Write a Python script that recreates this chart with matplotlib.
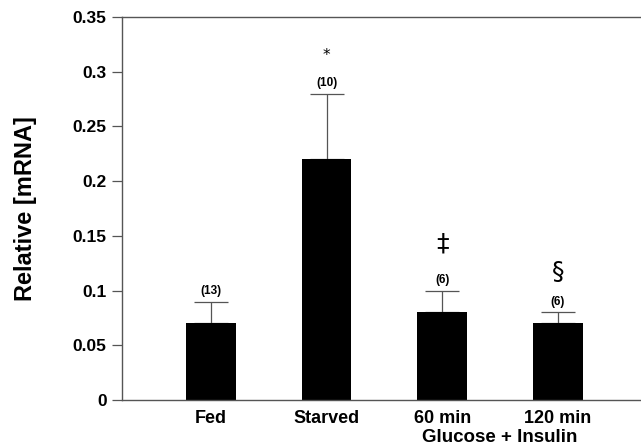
import matplotlib
matplotlib.use('Agg')
import matplotlib.pyplot as plt

plt.rcParams['font.family'] = ['Liberation Sans', 'DejaVu Sans']
plt.rcParams['font.weight'] = 'bold'

# data
groups = ['Fed', 'Starved', '60 min', '120 min']
means = [0.07, 0.22, 0.08, 0.07]
err_up = [0.02, 0.06, 0.02, 0.01]
n_labels = ['(13)', '(10)', '(6)', '(6)']
signif = ['', '*', '\u2021', '\u00a7']
signif_y = [None, 0.315, 0.143, 0.117]

fig = plt.figure(figsize=(6.41, 4.46), dpi=100)
ax = fig.add_axes([122 / 641, 46 / 446, 1 - 122 / 641, (400 - 17) / 446])

x = list(range(len(groups)))
ax.bar(x, means, width=0.43, color='black', zorder=2)
ax.errorbar(x, means, yerr=[[0] * 4, err_up], fmt='none', ecolor='#555555',
            elinewidth=0.9, capsize=12, capthick=0.9, zorder=1)

for xi, m, e, lab in zip(x, means, err_up, n_labels):
    ax.text(xi, m + e + 0.004, lab, ha='center', va='bottom',
            fontsize=8.5, fontweight='bold')

for xi, s, sy in zip(x, signif, signif_y):
    if s:
        size = 11 if s == '*' else 18
        ax.text(xi, sy, s, ha='center', va='center', fontsize=size,
                fontweight='normal', family=['DejaVu Sans'])

ax.set_xlim(-0.77, 3.72)
ax.set_ylim(0, 0.35)
ax.set_yticks([0, 0.05, 0.1, 0.15, 0.2, 0.25, 0.3, 0.35])
ax.set_yticklabels(['0', '0.05', '0.1', '0.15', '0.2', '0.25', '0.3', '0.35'])
ax.set_xticks(x)
ax.set_xticklabels(groups)
ax.tick_params(axis='x', length=0, pad=7, labelsize=13)
ax.tick_params(axis='y', direction='out', length=7, width=0.9,
               color='#555555', labelsize=12.5, pad=4)

for side in ['left', 'top', 'bottom']:
    ax.spines[side].set_color('#555555')
    ax.spines[side].set_linewidth(1.0)
ax.spines['right'].set_visible(False)

ax.text(2.5, -0.0345, 'Glucose + Insulin', ha='center', va='center',
        fontsize=13.5, fontweight='bold')
fig.text(26 / 641, 1 - 209 / 446, 'Relative [mRNA]', rotation=90,
         ha='center', va='center', fontsize=17, fontweight='bold')

fig.savefig('out.png', dpi=100)
